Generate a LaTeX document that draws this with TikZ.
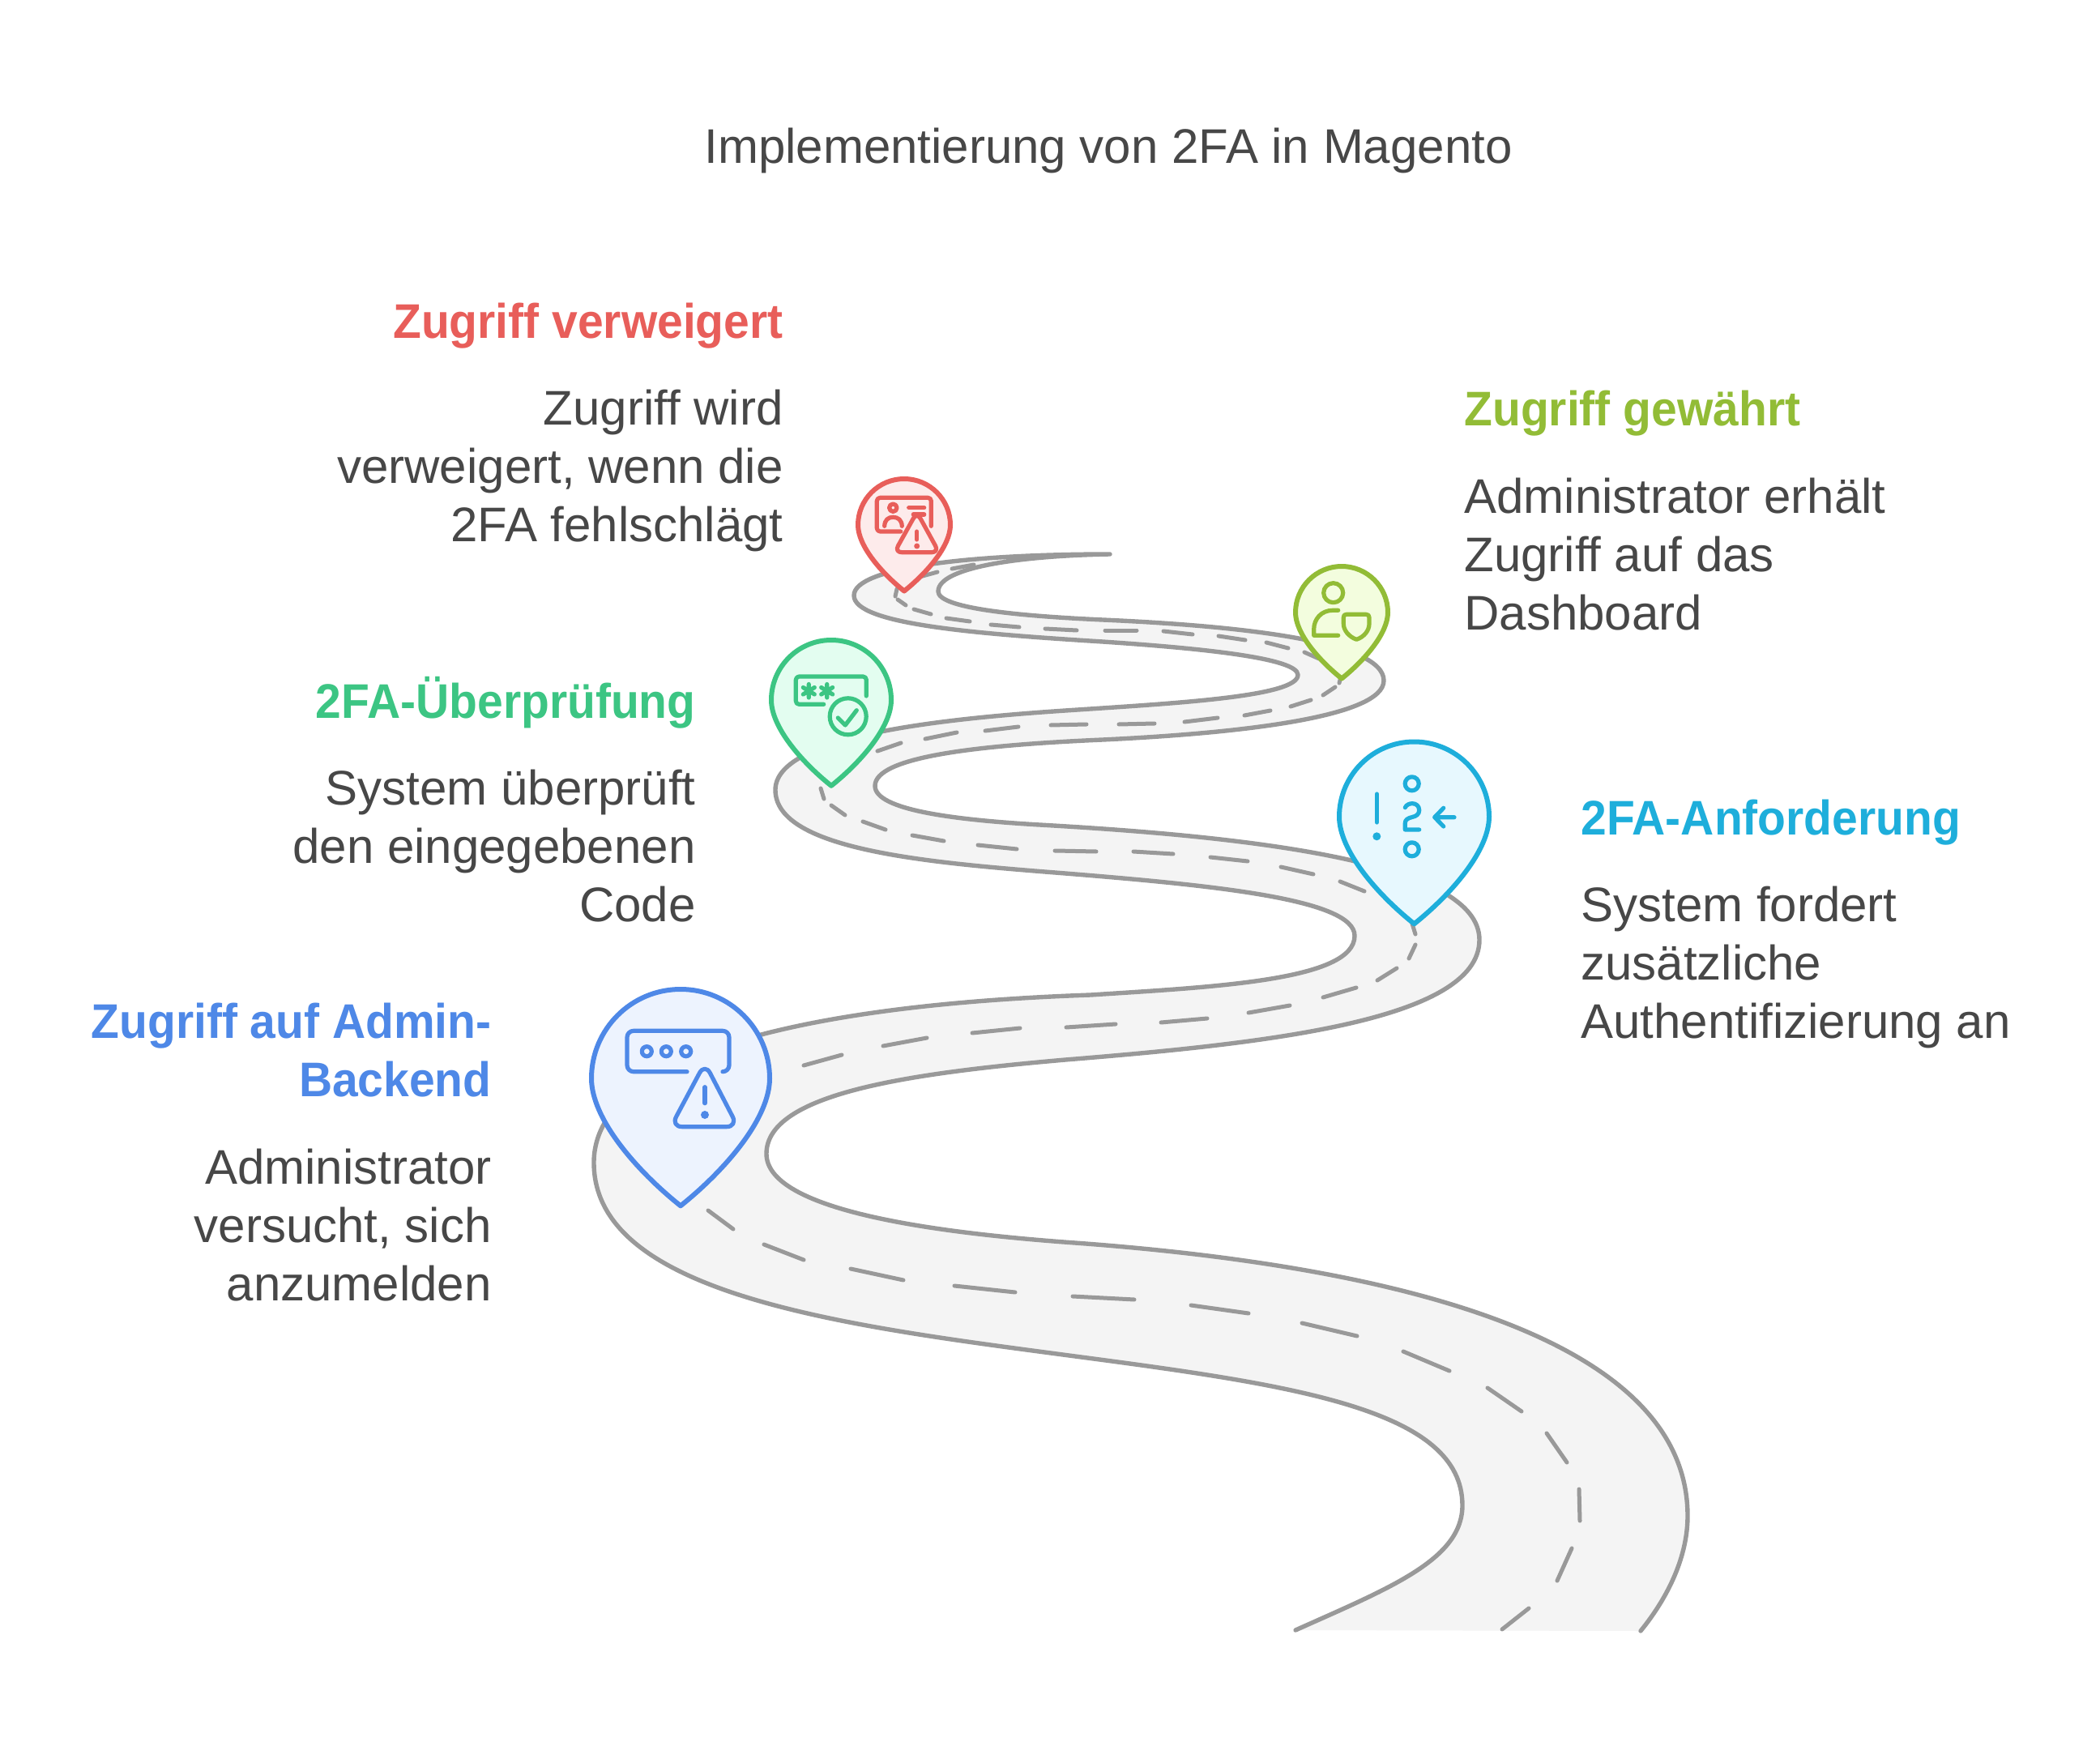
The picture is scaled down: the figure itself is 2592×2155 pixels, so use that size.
\documentclass[tikz,border=0pt]{standalone}
\usepackage{fontspec}
\setmainfont{Liberation Sans}
\newfontface\headfont{Liberation Sans Bold}[FakeStretch=0.95]
\definecolor{roadline}{HTML}{999999}
\definecolor{roadfill}{HTML}{F4F4F4}
\definecolor{txt}{HTML}{474747}
\definecolor{cblue}{HTML}{4E88E7}\definecolor{fblue}{HTML}{EDF3FE}
\definecolor{ccyan}{HTML}{1EAEDB}\definecolor{fcyan}{HTML}{E7F8FE}
\definecolor{cgreen}{HTML}{3CC583}\definecolor{fgreen}{HTML}{E3FDF0}
\definecolor{clime}{HTML}{92BC36}\definecolor{flime}{HTML}{F3FDDE}
\definecolor{cred}{HTML}{E85E5A}\definecolor{fred}{HTML}{FDEBEB}
\tikzset{
  edgeline/.style={draw=roadline,line width=2.7pt,line cap=round,line join=round},
  lane/.style={draw=roadline,line width=2.5pt,line cap=round},
  ico/.style={line width=2.6pt,line cap=round,line join=round},
  body/.style={font=\fontsize{30}{36}\selectfont,text=txt,inner sep=0pt},
  head/.style={font=\fontsize{30}{36}\selectfont\headfont,inner sep=0pt},
}
\newcommand{\pinshape}[5]{%
  \begin{scope}[shift={(#1,#2)},x=#3*0.5pt,y=#3*0.5pt]
  \draw[draw=#4,fill=#5,line width=3pt,line join=round]
    (-1,0) .. controls (-1,.552) and (-.552,1) .. (0,1)
    .. controls (.552,1) and (1,.552) .. (1,0)
    .. controls (1,-.45) and (.5,-1.03) .. (0,-1.43)
    .. controls (-.5,-1.03) and (-1,-.45) .. (-1,0) -- cycle;
  \end{scope}}
\def\Ledge{(1599,2012) .. controls (1715,1960) and (1805,1925) .. (1805,1858)
  .. controls (1805,1740) and (1600,1710) .. (1327,1674)
  .. controls (1050,1637) and (733,1600) .. (733,1435)
  .. controls (733,1300) and (1000,1240) .. (1346,1228)
  .. controls (1500,1218) and (1672,1210) .. (1672,1155)
  .. controls (1672,1110) and (1500,1093) .. (1315,1078)
  .. controls (1150,1065) and (957,1050) .. (957,975)
  .. controls (957,910) and (1150,888) .. (1315,877)
  .. controls (1450,868) and (1602,860) .. (1602,833)
  .. controls (1602,812) and (1480,800) .. (1361,792)
  .. controls (1200,782) and (1054,770) .. (1054,735)
  .. controls (1054,700) and (1200,684) .. (1370,684)}
\def\Uedge{.. controls (1260,686) and (1158,700) .. (1158,730)
  .. controls (1158,750) and (1250,760) .. (1361,765)
  .. controls (1520,772) and (1708,790) .. (1708,840)
  .. controls (1708,885) and (1530,905) .. (1361,913)
  .. controls (1200,920) and (1080,935) .. (1080,970)
  .. controls (1080,1000) and (1180,1012) .. (1283,1018)
  .. controls (1550,1033) and (1826,1065) .. (1826,1160)
  .. controls (1826,1260) and (1560,1288) .. (1315,1308)
  .. controls (1120,1325) and (946,1350) .. (946,1424)
  .. controls (946,1490) and (1130,1520) .. (1327,1534)
  .. controls (1750,1565) and (2083,1660) .. (2083,1871)
  .. controls (2083,1920) and (2060,1970) .. (2025,2013)}
\begin{document}
\begin{tikzpicture}[x=0.5pt,y=-0.5pt]
\path[use as bounding box,fill=white] (0,0) rectangle (2592,2155);
% road
\fill[roadfill] \Ledge \Uedge -- cycle;
\draw[edgeline] \Ledge \Uedge;
% lane marks
\foreach \a/\b/\c/\d in {
874/1494/905/1517,943/1536/992/1555,1050/1566/1115/1580,1178/1587/1253/1595,1324/1600/1400/1604,1470/1611/1541/1621,1607/1633/1675/1649,1732/1668/1789/1692,1836/1713/1878/1742,1909/1769/1934/1805,1949/1838/1950/1877,1940/1911/1922/1951,1887/1985/1854/2011,
992/1315/1039/1302,1090/1291/1144/1281,1200/1275/1259/1269,1316/1268/1377/1264,1433/1262/1490/1257,1541/1250/1592/1241,1633/1231/1674/1219,1700/1210/1724/1195,1739/1183/1747/1166,1747/1153/1743/1140,
1684/1100/1654/1088,1621/1079/1581/1070,1540/1063/1494/1058,1448/1054/1399/1051,1353/1051/1302/1050,1255/1048/1207/1043,1165/1038/1126/1031,1093/1024/1065/1014,1043/1006/1026/994,1017/986/1013/973,
1083/927/1112/917,1142/912/1181/904,1216/902/1257/897,1297/895/1341/894,1381/894/1425/893,1462/891/1503/886,1536/883/1568/877,1593/872/1618/864,1633/858/1648/848,1653/843/1655/835,
1628/813/1610/805,1590/800/1563/793,1537/790/1504/785,1472/783/1436/779,1403/778/1364/778,1329/778/1290/776,1258/774/1223/771,1197/767/1168/763,1149/758/1128/752,1118/747/1108/740,1105/736/1107/727,
1135/712/1157/706,1175/702/1202/697}
  \draw[lane] (\a,\b) -- (\c,\d);
% pins
\pinshape{840}{1331}{110}{cblue}{fblue}
\pinshape{1745.5}{1008}{92.5}{ccyan}{fcyan}
\pinshape{1026}{864}{74}{cgreen}{fgreen}
\pinshape{1656}{756}{57}{clime}{flime}
\pinshape{1116}{648}{57}{cred}{fred}
% blue icon
\begin{scope}[ico,draw=cblue]
\draw[rounded corners=4pt] (848,1322.7) -- (774,1322.7) -- (774,1272.3) -- (900,1272.3) -- (900,1322.7) -- (892,1322.7);
\draw (798.3,1297.7) circle[radius=6] (822.3,1297.7) circle[radius=6] (846.7,1297.7) circle[radius=6];
\draw[rounded corners=7pt] (870,1312) -- (828,1390.7) -- (910.7,1390.7) -- cycle;
\draw (870,1341.7) -- (870,1361.7);
\fill[cblue] (870,1376) circle[radius=5];
\end{scope}
% cyan icon
\begin{scope}[ico,draw=ccyan]
\draw (1699.3,980) -- (1699.3,1015);
\fill[ccyan] (1699.3,1032.3) circle[radius=5];
\draw (1742.7,967.3) circle[radius=8.5] (1742.7,1048.3) circle[radius=8.5];
\draw (1734.3,996.7) .. controls (1736,993) and (1740,991.7) .. (1743.3,991.7) .. controls (1748,991.7) and (1751.7,995) .. (1751.7,1000) .. controls (1751.7,1005) and (1748,1007.5) .. (1743,1008.5) .. controls (1737,1010) and (1734.3,1012) .. (1734.3,1016) -- (1734.3,1024) -- (1751.7,1024);
\draw (1795,1008.7) -- (1770.7,1008.7) (1781.7,997.3) -- (1770.7,1008.7) -- (1781.7,1020);
\end{scope}
% green icon
\begin{scope}[ico,draw=cgreen]
\draw[rounded corners=2pt] (1016.7,869.3) -- (982.3,869.3) -- (982.3,835) -- (1069.3,835) -- (1069.3,859);
\foreach \q in {998.3,1020.7}{
  \draw (\q,844.5) -- (\q,861) (\q-7,848.5) -- (\q+7,857) (\q-7,857) -- (\q+7,848.5);}
\draw (1046.7,884.3) circle[radius=22.5];
\draw (1034.3,886) -- (1043.3,895) -- (1057.3,876.7);
\end{scope}
% lime icon
\begin{scope}[ico,draw=clime]
\draw (1645.7,731.7) circle[radius=12];
\draw (1651.7,753.3) -- (1645,753.3) .. controls (1631,753.3) and (1621.7,764) .. (1621.7,776.7) -- (1621.7,784.3) -- (1651.7,784.3);
\draw (1658.3,762) .. controls (1658.3,759.5) and (1659.5,758.3) .. (1662,758.3) -- (1686,758.3) .. controls (1688.5,758.3) and (1690,759.5) .. (1690,762) -- (1690,770) .. controls (1690,778) and (1684,786) .. (1674.3,789.3) .. controls (1665,786) and (1658.3,778) .. (1658.3,770) -- cycle;
\end{scope}
% red icon
\begin{scope}[ico,draw=cred]
\draw[rounded corners=2pt] (1111.7,656) -- (1082.3,656) -- (1082.3,614.3) -- (1149.3,614.3) -- (1149.3,649.3);
\draw (1102.3,626.7) circle[radius=4.7];
\draw (1091.7,649.3) .. controls (1092,642) and (1096,638.3) .. (1102.3,638.3) .. controls (1108.5,638.3) and (1113,642) .. (1113.3,649.3);
\draw (1121.7,626.7) -- (1140.7,626.7) (1127.3,635) -- (1140.7,635);
\draw[rounded corners=4.5pt] (1131.7,632) -- (1104,681.7) -- (1159,681.7) -- cycle;
\draw (1131.7,656) -- (1131.7,666);
\fill[cred] (1131.7,674) circle[radius=3.5];
\end{scope}
% texts
\node[body,anchor=base] (title) at (1368,202) {Implementierung von 2FA in Magento};
\node[head,text=cred,anchor=base east] (redhead) at (967,418) {Zugriff verweigert};
\node[body,align=right,anchor=north east] (redbody) at (967,481) {Zugriff wird\\verweigert, wenn die\\2FA fehlschlägt};
\node[head,text=clime,anchor=base west] (limehead) at (1807,526) {Zugriff gewährt};
\node[body,align=left,anchor=north west] (limebody) at (1807,590) {Administrator erhält\\Zugriff auf das\\Dashboard};
\node[head,text=cgreen,anchor=base east] (greenhead) at (859,886) {2FA-Überprüfung};
\node[body,align=right,anchor=north east] (greenbody) at (859,950) {System überprüft\\den eingegebenen\\Code};
\node[head,text=ccyan,anchor=base west] (cyanhead) at (1951,1030) {2FA-Anforderung};
\node[body,align=left,anchor=north west] (cyanbody) at (1951,1094) {System fordert\\zusätzliche\\Authentifizierung an};
\node[head,text=cblue,align=right,anchor=north east] (bluehead) at (607,1238) {Zugriff auf Admin-\\Backend};
\node[body,align=right,anchor=north east] (bluebody) at (607,1418) {Administrator\\versucht, sich\\anzumelden};
\end{tikzpicture}
\end{document}
